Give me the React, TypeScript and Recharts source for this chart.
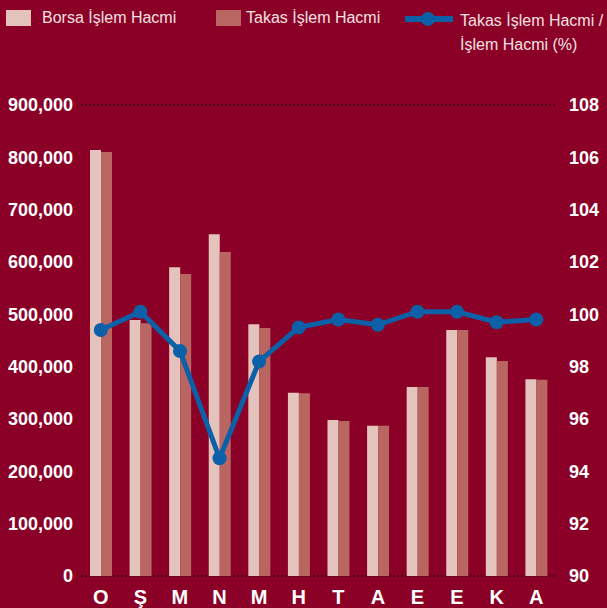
import React from 'react';
import { ComposedChart, Bar, Line, XAxis, YAxis, CartesianGrid } from 'recharts';

const months = ['O', 'Ş', 'M', 'N', 'M', 'H', 'T', 'A', 'E', 'E', 'K', 'A'];
const borsa = [814000, 489000, 590000, 653000, 481000, 350000, 298000, 287000, 361000, 470000, 418000, 376000];
const takas = [810000, 483000, 577000, 619000, 474000, 349000, 296000, 287000, 361000, 470000, 411000, 375000];
const ratio = [99.4, 100.1, 98.6, 94.5, 98.2, 99.5, 99.8, 99.6, 100.1, 100.1, 99.7, 99.8];
const leftTicks = [0, 100000, 200000, 300000, 400000, 500000, 600000, 700000, 800000, 900000];
const rightTicks = [90, 92, 94, 96, 98, 100, 102, 104, 106, 108];

const data = months.map((m, i) => ({ ay: m, borsa: borsa[i], takas: takas[i], oran: ratio[i] }));

const BG = '#8b0026';
const LIGHT = '#e4c3bc';
const MID = '#b96562';
const BLUE = '#0b60a8';
const tickStyle = { fill: '#ffffff', fontFamily: 'Liberation Sans, Arial, sans-serif', fontWeight: 700, fontSize: 18 };

const Legend = () => (
    <div style={{ position: 'absolute', left: 0, top: 0, width: 607, height: 60, color: '#f3e1e1', fontFamily: 'Liberation Sans, Arial, sans-serif', fontSize: 16 }}>
        <div style={{ position: 'absolute', left: 6, top: 10, width: 25, height: 16, background: LIGHT }} />
        <div style={{ position: 'absolute', left: 42, top: 9 }}>Borsa İşlem Hacmi</div>
        <div style={{ position: 'absolute', left: 216, top: 10, width: 25, height: 16, background: MID }} />
        <div style={{ position: 'absolute', left: 246, top: 9 }}>Takas İşlem Hacmi</div>
        <svg style={{ position: 'absolute', left: 404, top: 10 }} width={50} height={18}>
            <line x1={1} y1={9} x2={49} y2={9} stroke={BLUE} strokeWidth={6} />
            <circle cx={24} cy={9} r={7} fill={BLUE} />
        </svg>
        <div style={{ position: 'absolute', left: 460, top: 9, lineHeight: '24px' }}>
            Takas İşlem Hacmi /<br />İşlem Hacmi (%)
        </div>
    </div>
);

export default function App() {
    return (
        <div style={{ position: 'absolute', left: 0, top: 0, width: 607, height: 608, background: BG, overflow: 'hidden' }}>
            <Legend />
            <ComposedChart
                width={607}
                height={608}
                data={data}
                barGap={0}
                margin={{ top: 105, right: 0, left: 8, bottom: 0 }}
            >
                <CartesianGrid vertical={false} stroke="#3c0a14" strokeDasharray="2 2" strokeWidth={1.5} />
                <XAxis
                    dataKey="ay"
                    axisLine={false}
                    tickLine={false}
                    height={32}
                    tickMargin={8}
                    interval={0}
                    tick={{ ...tickStyle, fontSize: 20 }}
                />
                <YAxis
                    yAxisId="left"
                    domain={[0, 900000]}
                    ticks={leftTicks}
                    width={73}
                    axisLine={false}
                    tickLine={false}
                    tick={tickStyle}
                    tickFormatter={(v: number) => v.toLocaleString('en-US')}
                />
                <YAxis
                    yAxisId="right"
                    orientation="right"
                    domain={[90, 108]}
                    ticks={rightTicks}
                    width={51}
                    axisLine={false}
                    tickLine={false}
                    tickMargin={7}
                    tick={{ ...tickStyle, textAnchor: 'start' }}
                />
                <Bar yAxisId="left" dataKey="borsa" fill={LIGHT} barSize={11} isAnimationActive={false} />
                <Bar yAxisId="left" dataKey="takas" fill={MID} barSize={11} isAnimationActive={false} />
                <Line
                    yAxisId="right"
                    type="linear"
                    dataKey="oran"
                    stroke={BLUE}
                    strokeWidth={5}
                    dot={{ r: 7, fill: BLUE, stroke: 'none' }}
                    activeDot={false}
                    isAnimationActive={false}
                />
            </ComposedChart>
        </div>
    );
}
